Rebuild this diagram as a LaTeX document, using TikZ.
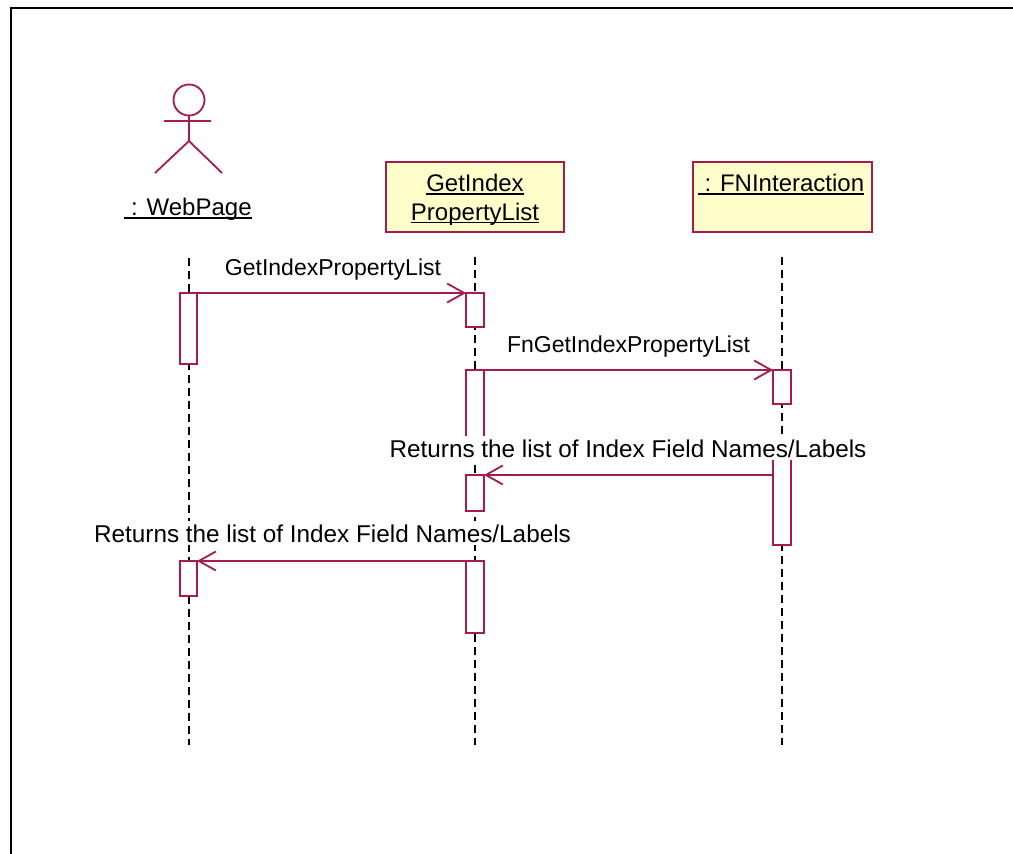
\documentclass[tikz,border=0pt]{standalone}
\usepackage{fontspec}
\setmainfont{Liberation Sans}
\usetikzlibrary{arrows.meta}
\definecolor{umlred}{RGB}{165,28,72}
\definecolor{umlyellow}{RGB}{255,255,204}
\begin{document}
\begin{tikzpicture}[x=1pt,y=-1pt,
  lbl/.style={font=\fontsize{23}{27}\selectfont, inner sep=0pt, text=black},
  objlbl/.style={font=\fontsize{24}{28}\selectfont, inner sep=0pt, text=black},
  retlbl/.style={font=\fontsize{24.3}{28}\selectfont, inner xsep=0pt, inner ysep=3pt, fill=white, text=black},
  frameline/.style={draw=black, line width=2.2pt},
  lifeline/.style={draw=black, line width=2pt, dash pattern=on 8pt off 5pt},
  actbar/.style={draw=umlred, fill=white, line width=1.8pt, inner sep=0pt, outer sep=0pt, anchor=north},
  objbox/.style={draw=umlred, fill=umlyellow, line width=1.8pt, inner sep=0pt},
  msg/.style={draw=umlred, line width=1.8pt, -{Straight Barb[length=17pt,width=19pt]}},
  uline/.style={draw=black, line width=1.4pt},
  actorline/.style={draw=umlred, line width=1.8pt}]
\useasboundingbox (0,0) rectangle (1013,854);
\fill[white] (0,0) rectangle (1013,854);
% frame (cut at right and bottom)
\coordinate (fBL) at (11,854);
\coordinate (fTL) at (11,8);
\coordinate (fTR) at (1013,8);
\draw[frameline] (fBL) -- (fTL) -- (fTR);

% actor
\node[draw=umlred, circle, line width=1.8pt, minimum size=31pt, inner sep=0pt, outer sep=0pt] (head) at (189,100) {};
\coordinate (hip) at (189,141);
\coordinate (larm) at (164,121);
\coordinate (rarm) at (211,121);
\coordinate (lfoot) at (155,173);
\coordinate (rfoot) at (222,173);
\draw[actorline] (head.south) -- (hip);
\draw[actorline] (larm) -- (rarm);
\draw[actorline] (lfoot) -- (hip) -- (rfoot);
\node[objlbl, anchor=base] (wp) at (188,215) {~: WebPage};
\draw[uline] ([yshift=-3pt]wp.base west) -- ([yshift=-3pt]wp.base east);

% object boxes
\node[objbox, minimum width=178pt, minimum height=70pt] (gbox) at (475,197) {};
\node[objlbl, anchor=base] (gt1) at (475,191.5) {GetIndex};
\node[objlbl, anchor=base] (gt2) at (475,220) {PropertyList};
\draw[uline] ([yshift=-2.5pt]gt1.base west) -- ([yshift=-2.5pt]gt1.base east);
\draw[uline] ([yshift=-2.5pt]gt2.base west) -- ([yshift=-2.5pt]gt2.base east);

\node[objbox, minimum width=179pt, minimum height=70pt] (fbox) at (782.5,197) {};
\node[objlbl, anchor=base] (ft) at (781,191.5) {~: FNInteraction};
\draw[uline] ([yshift=-2.5pt]ft.base west) -- ([yshift=-2.5pt]ft.base east);

% lifelines
\coordinate (wpT) at (188.5,258);
\coordinate (wpB) at (188.5,745);
\coordinate (giT) at (475,257);
\coordinate (giB) at (475,745);
\coordinate (fnT) at (782,257);
\coordinate (fnB) at (782,745);
\draw[lifeline] (wpT) -- (wpB);
\draw[lifeline] (giT) -- (giB);
\draw[lifeline] (fnT) -- (fnB);

% activation bars
\node[actbar, minimum width=17pt, minimum height=71pt] (a1) at (188.5,293) {};
\node[actbar, minimum width=17pt, minimum height=35pt] (a2) at (188.5,561) {};
\node[actbar, minimum width=18pt, minimum height=34pt] (b1) at (475,293) {};
\node[actbar, minimum width=18pt, minimum height=75pt] (b2) at (475,370) {};
\node[actbar, minimum width=18pt, minimum height=36pt] (b3) at (475,475) {};
\node[actbar, minimum width=18pt, minimum height=72pt] (b4) at (475,561) {};
\node[actbar, minimum width=18pt, minimum height=34pt] (c1) at (782,370) {};
\node[actbar, minimum width=18pt, minimum height=95pt] (c2) at (782,450) {};

% messages
\draw[msg] (a1.north east) -- (b1.north west);
\draw[msg] (b2.north east) -- (c1.north west);
\draw[msg] (c2.west |- b3.north) -- (b3.north east);
\draw[msg] (b4.north west) -- (a2.north east);

% message labels
\node[lbl, anchor=base] (m1) at (333,275) {GetIndexPropertyList};
\node[lbl, anchor=base] (m2) at (628.5,352) {FnGetIndexPropertyList};
\node[retlbl, anchor=base] (m3) at (628,457) {Returns the list of Index Field Names/Labels};
\node[retlbl, anchor=base] (m4) at (332.5,542) {Returns the list of Index Field Names/Labels};
\end{tikzpicture}
\end{document}
